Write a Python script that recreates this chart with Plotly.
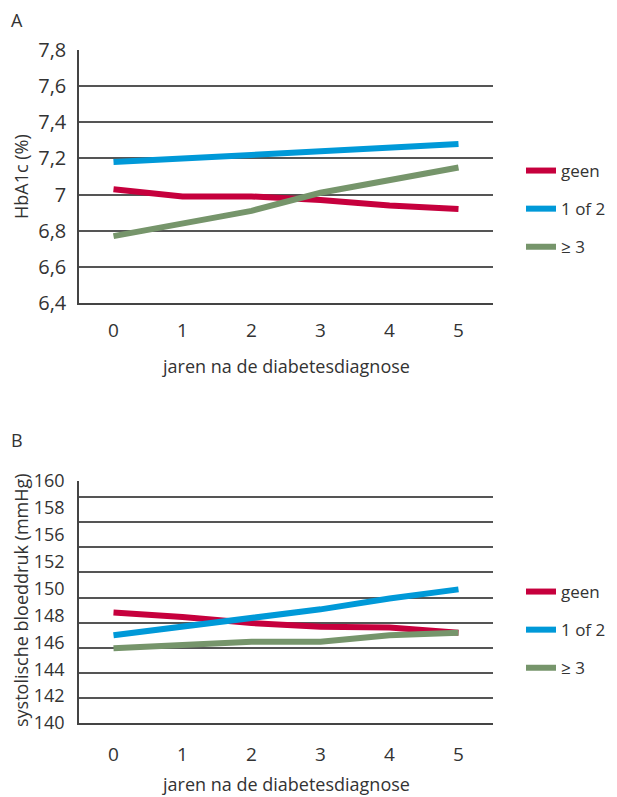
import plotly.graph_objects as go

years = [0, 1, 2, 3, 4, 5]
x_tick_labels = ["0", "1", "2", "3", "4", "5"]
series_names = ["geen", "1 of 2", "≥ 3"]
colors = ["#c6003d", "#0099d8", "#76956b"]

# Panel A: HbA1c (%)
hba1c_geen = [7.03, 6.99, 6.99, 6.97, 6.94, 6.92]
hba1c_1of2 = [7.18, 7.20, 7.22, 7.24, 7.26, 7.28]
hba1c_ge3 = [6.77, 6.84, 6.91, 7.01, 7.08, 7.15]
a_tick_vals = [6.4, 6.6, 6.8, 7.0, 7.2, 7.4, 7.6, 7.8]
a_tick_text = ["6,4", "6,6", "6,8", "7", "7,2", "7,4", "7,6", "7,8"]

# Panel B: systolische bloeddruk (mmHg)
bp_geen = [148.8, 148.45, 147.97, 147.67, 147.62, 147.2]
bp_1of2 = [147.0, 147.67, 148.34, 149.06, 149.93, 150.65]
bp_ge3 = [145.95, 146.2, 146.48, 146.48, 147.0, 147.2]
b_tick_text = ["140", "142", "144", "146", "148", "150", "152", "156", "158", "160"]

# page has an 8px body margin, so the figure is sized to fit the window exactly
OFF = 8
W, H = 617 - OFF, 797 - OFF
font_fam = "Open Sans, Noto Sans, DejaVu Sans, sans-serif"
txt_col = "#333333"
grid_col = "#555555"


def py(p):
    return 1 - (p - OFF) / H


def px(p):
    return (p - OFF) / W


fig = go.Figure()

for name, vals, col in zip(series_names, [hba1c_geen, hba1c_1of2, hba1c_ge3], colors):
    fig.add_trace(go.Scatter(x=years, y=vals, mode="lines", name=name,
                             line=dict(color=col, width=6),
                             xaxis="x", yaxis="y", legend="legend",
                             legendgroup="a" + name))
for name, vals, col in zip(series_names, [bp_geen, bp_1of2, bp_ge3], colors):
    fig.add_trace(go.Scatter(x=years, y=vals, mode="lines", name=name,
                             line=dict(color=col, width=6),
                             xaxis="x2", yaxis="y2", legend="legend2",
                             legendgroup="b" + name))

xdom = [px(79), px(493)]
common_x = dict(range=[-0.5, 5.5], domain=xdom, tickvals=years, ticktext=x_tick_labels,
                showgrid=False, zeroline=False, showline=True, linecolor="#444444",
                linewidth=1.5, ticks="outside", tickcolor="rgba(0,0,0,0)",
                automargin=False,
                tickfont=dict(size=19, color=txt_col, family=font_fam))

# Panel B: data range; tick labels spread evenly along the axis (as in the source graphic)
b_lo, b_hi = 140, 159.28
b_label_pos = [b_lo + i * (b_hi - b_lo) / (len(b_tick_text) - 1) for i in range(len(b_tick_text))]

tfont = dict(size=18, color=txt_col, family=font_fam)

fig.update_layout(
    width=W, height=H,
    margin=dict(l=0, r=0, t=0, b=0, autoexpand=False),
    paper_bgcolor="white", plot_bgcolor="white",
    font=dict(family=font_fam, color=txt_col),
    xaxis=dict(common_x, anchor="y", ticklen=9),
    yaxis=dict(domain=[py(303), py(50)], range=[6.4, 7.8005], tickvals=a_tick_vals,
               ticktext=a_tick_text, showgrid=True, gridcolor=grid_col, gridwidth=1.5,
               zeroline=False, showline=True, linecolor="#444444", linewidth=1.5,
               ticks="outside", ticklen=7, tickcolor="rgba(0,0,0,0)",
               tickfont=dict(size=20, color=txt_col, family=font_fam),
               anchor="x", automargin=False),
    xaxis2=dict(common_x, anchor="y2", ticklen=13),
    yaxis2=dict(domain=[py(723), py(481)], range=[b_lo, b_hi + 0.01],
                tickvals=b_label_pos, ticktext=b_tick_text,
                showgrid=False,
                minor=dict(tick0=140, dtick=2, showgrid=True, gridcolor=grid_col,
                           gridwidth=1.5, ticks=""),
                zeroline=False, showline=True, linecolor="#444444", linewidth=1.5,
                ticks="outside", ticklen=9, tickcolor="rgba(0,0,0,0)",
                tickfont=dict(size=18, color=txt_col, family=font_fam),
                anchor="x2", automargin=False),
    legend=dict(x=px(521), y=py(153), xanchor="left", yanchor="top",
                tracegroupgap=13, font=dict(size=17, color=txt_col, family=font_fam),
                bgcolor="rgba(0,0,0,0)"),
    legend2=dict(x=px(521), y=py(574), xanchor="left", yanchor="top",
                 tracegroupgap=13, font=dict(size=17, color=txt_col, family=font_fam),
                 bgcolor="rgba(0,0,0,0)"),
    annotations=[
        dict(text="A", x=px(17), y=py(20), xref="paper", yref="paper", xanchor="center",
             yanchor="middle", showarrow=False, font=tfont),
        dict(text="B", x=px(17), y=py(440), xref="paper", yref="paper", xanchor="center",
             yanchor="middle", showarrow=False, font=tfont),
        dict(text="jaren na de diabetesdiagnose", x=px(286), y=py(366), xref="paper",
             yref="paper", xanchor="center", yanchor="middle", showarrow=False, font=tfont),
        dict(text="jaren na de diabetesdiagnose", x=px(286), y=py(784), xref="paper",
             yref="paper", xanchor="center", yanchor="middle", showarrow=False, font=tfont),
        dict(text="HbA1c (%)", x=px(21), y=py(177), xref="paper", yref="paper",
             xanchor="center", yanchor="middle", textangle=-90, showarrow=False, font=tfont),
        dict(text="systolische bloeddruk (mmHg)", x=px(21), y=py(600), xref="paper",
             yref="paper", xanchor="center", yanchor="middle", textangle=-90,
             showarrow=False, font=tfont),
    ],
)

fig.write_html("out.html")
